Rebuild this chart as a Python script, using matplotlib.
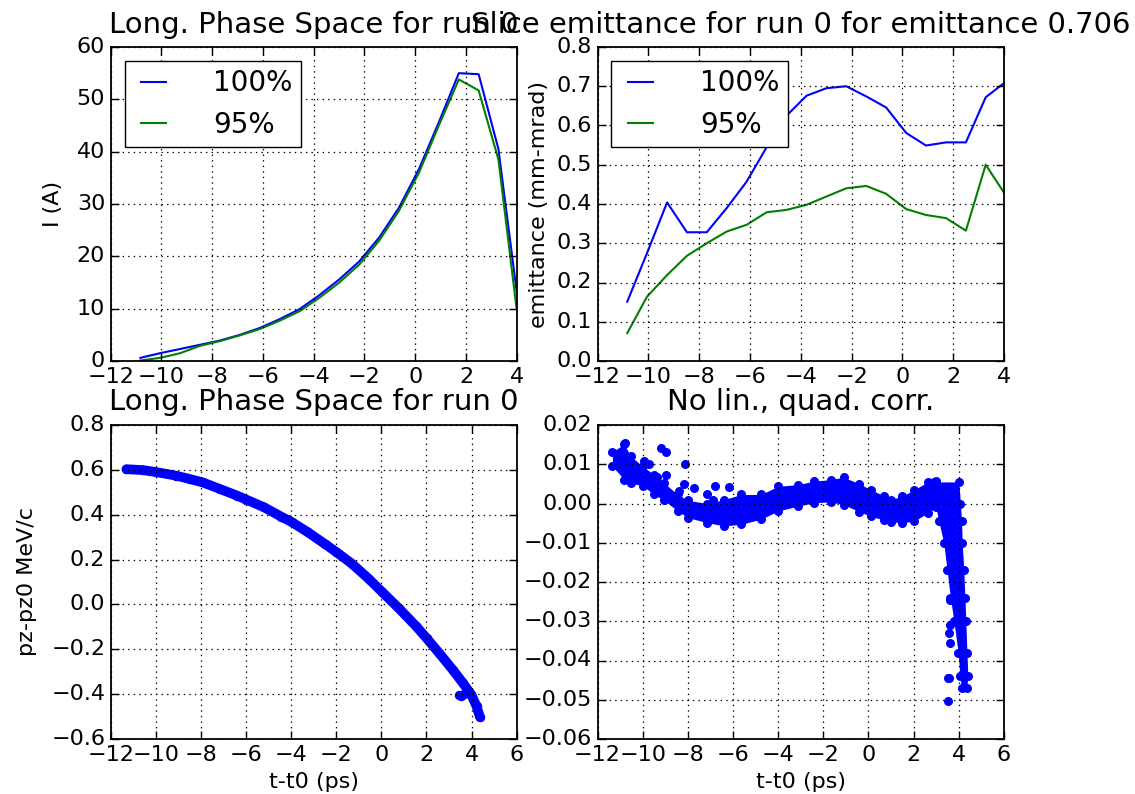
import matplotlib
matplotlib.use("Agg")
import matplotlib.pyplot as plt

plt.style.use("classic")
plt.rcParams.update({
    "font.family": ["DejaVu Sans"],
    "font.size": 16,
    "axes.linewidth": 1.3,
    "xtick.major.size": 5.5,
    "ytick.major.size": 5.5,
    "xtick.major.width": 1.0,
    "ytick.major.width": 1.0,
    "grid.linewidth": 0.9,
    "lines.linewidth": 1.5,
})

# ---- data: slice current and emittance ----
slice_t = [-10.83, -10.05, -9.26, -8.48, -7.70, -6.91, -6.13, -5.34, -4.56, -3.77,
           -2.99, -2.21, -1.42, -0.64, 0.15, 0.93, 1.72, 2.50, 3.28, 4.00]
current_100 = [0.6, 1.5, 2.3, 3.1, 3.9, 5.0, 6.3, 8.0, 9.9, 12.6,
               15.6, 19.0, 23.6, 29.3, 36.7, 45.6, 55.0, 54.8, 40.5, 13.2]
current_95 = [0.1, 0.6, 1.5, 2.9, 3.8, 4.9, 6.1, 7.7, 9.5, 12.1,
              15.0, 18.4, 23.0, 28.7, 36.0, 45.0, 53.8, 51.7, 38.5, 9.8]
emit_100 = [0.151, 0.275, 0.404, 0.328, 0.328, 0.390, 0.457, 0.545, 0.625, 0.676,
            0.695, 0.700, 0.674, 0.646, 0.581, 0.549, 0.557, 0.557, 0.672, 0.708]
emit_95 = [0.071, 0.164, 0.219, 0.268, 0.300, 0.330, 0.347, 0.379, 0.385, 0.398,
           0.419, 0.440, 0.446, 0.426, 0.387, 0.372, 0.364, 0.332, 0.500, 0.429]
legend_labels = ["100%", "95%"]

# ---- data: longitudinal phase space (band centre) ----
lps_t = [-11.30, -10.58, -9.98, -9.09, -8.49, -7.92, -7.14, -6.39, -5.98, -5.20,
         -4.45, -3.97, -3.26, -2.51, -1.99, -1.31, -0.57, 0.03, 0.78, 1.53,
         2.01, 2.57, 3.17, 3.62, 3.99, 4.22, 4.37]
lps_pz = [0.603, 0.599, 0.590, 0.574, 0.559, 0.544, 0.514, 0.485, 0.467, 0.433,
          0.392, 0.367, 0.322, 0.270, 0.233, 0.182, 0.115, 0.056, -0.018, -0.096,
          -0.151, -0.218, -0.292, -0.351, -0.403, -0.454, -0.502]
lps_blob_t = [3.45, 3.55, 3.65]
lps_blob_pz = [-0.405, -0.41, -0.40]

# ---- data: residual after linear+quadratic correction ----
band_t = [-11.34, -10.82, -10.52, -10.0, -9.49, -9.05, -8.45, -8.0, -7.13, -6.39,
          -5.65, -4.76, -4.0, -3.14, -2.4, -1.66, -1.1, -0.4, 0.11, 0.7,
          1.0, 1.5, 2.03, 2.62, 3.0]
band_hi = [0.0132, 0.0151, 0.0120, 0.0095, 0.0073, 0.0052, 0.0023, 0.0008, 0.0000, 0.0010,
           0.0023, 0.0023, 0.0044, 0.0048, 0.0057, 0.0061, 0.0067, 0.0050, 0.0035, 0.0019,
           0.0010, 0.0019, 0.0035, 0.0055, 0.0058]
band_lo = [0.0095, 0.0061, 0.0052, 0.0045, 0.0023, 0.0008, -0.0019, -0.0036, -0.0049, -0.0057,
           -0.0053, -0.0040, -0.0019, -0.0007, 0.0002, 0.0004, -0.0003, -0.0021, -0.0033, -0.0042,
           -0.0047, -0.0049, -0.0045, -0.0024, -0.0010]
tail_y = [0.0055, 0.0, -0.0044, -0.010, -0.017, -0.024, -0.030, -0.038, -0.044, -0.047]
tail_left = [2.90, 2.95, 3.11, 3.33, 3.48, 3.63, 3.78, 3.97, 4.05, 4.12]
tail_right = [4.00, 4.07, 4.12, 4.15, 4.22, 4.27, 4.31, 4.36, 4.40, 4.35]
out_t = [-10.8, -9.93, -9.70, -9.37, -9.19, -8.97, -8.97, -8.38, -8.19, -8.13,
         -7.72, -7.13, -6.90, -6.80, -6.31, -6.17, -5.65,
         3.56, 3.62, 3.62, 3.56, 3.62, 3.58, 3.54, 3.54]
out_y = [0.0153, 0.0109, 0.0100, 0.0067, 0.0141, 0.0132, 0.0073, 0.0031, 0.0050, 0.0100,
         0.0040, 0.0023, 0.0008, 0.0044, -0.0003, 0.0041, 0.0002,
         -0.0170, -0.0245, -0.0310, -0.0330, -0.0355, -0.0445, -0.0445, -0.0503]

W, H = 1135, 794
fig = plt.figure(figsize=(W / 100, H / 100), dpi=100, facecolor="white")


def add_ax(l, t, r, b):
    return fig.add_axes([l / W, 1 - b / H, (r - l) / W, (b - t) / H])


ax1 = add_ax(110.7, 47, 516.7, 361)
ax2 = add_ax(597.5, 47, 1004, 361)
ax3 = add_ax(110.7, 425, 516.7, 739)
ax4 = add_ax(597.5, 425, 1004, 739)

TITLE_FS = 21
leg_kw = dict(loc="upper left", fontsize=20, handlelength=1.5, handletextpad=1.4,
              borderaxespad=0.5, borderpad=0.3, labelspacing=0.5)

ax1.plot(slice_t, current_100, color="b", label=legend_labels[0])
ax1.plot(slice_t, current_95, color="g", label=legend_labels[1])
ax1.set_xlim(-12, 4)
ax1.set_ylim(0, 60)
ax1.set_ylabel("I (A)", labelpad=10)
ax1.set_title("Long. Phase Space for run 0", fontsize=TITLE_FS, pad=10)
ax1.grid(True)
ax1.legend(**leg_kw)

ax2.plot(slice_t, emit_100, color="b", label=legend_labels[0])
ax2.plot(slice_t, emit_95, color="g", label=legend_labels[1])
ax2.set_xlim(-12, 4)
ax2.set_ylim(0, 0.8)
ax2.set_ylabel("emittance (mm-mrad)")
ax2.set_title("Slice emittance for run 0 for emittance 0.706", fontsize=TITLE_FS, pad=10)
ax2.grid(True)
ax2.legend(**leg_kw)

ax3.plot(lps_t, lps_pz, color="b", lw=7, solid_capstyle="round", solid_joinstyle="round")
ax3.scatter(lps_t, lps_pz, s=34, color="b", edgecolors="b")
ax3.scatter(lps_blob_t, lps_blob_pz, s=34, color="b", edgecolors="b")
ax3.set_xlim(-12, 6)
ax3.set_ylim(-0.6, 0.8)
ax3.set_xlabel("t-t0 (ps)")
ax3.set_ylabel("pz-pz0 MeV/c", labelpad=10)
ax3.set_title("Long. Phase Space for run 0", fontsize=TITLE_FS, pad=11)
ax3.grid(True)

ax4.fill_between(band_t, band_lo, band_hi, color="b", lw=0)
ax4.fill_betweenx(tail_y, tail_left, tail_right, color="b", lw=0)
ax4.scatter(band_t, band_hi, s=30, color="b", edgecolors="b")
ax4.scatter(band_t, band_lo, s=30, color="b", edgecolors="b")
ax4.scatter(tail_left, tail_y, s=30, color="b", edgecolors="b")
ax4.scatter(tail_right, tail_y, s=30, color="b", edgecolors="b")
ax4.scatter(out_t, out_y, s=30, color="b", edgecolors="b")
ax4.set_xlim(-12, 6)
ax4.set_ylim(-0.06, 0.02)
ax4.set_xlabel("t-t0 (ps)")
ax4.set_title("No lin., quad. corr.", fontsize=TITLE_FS, pad=11)
ax4.grid(True)

for ax in (ax1, ax2, ax3, ax4):
    ax.set_axisbelow(False)

fig.savefig("out.png", dpi=100)
